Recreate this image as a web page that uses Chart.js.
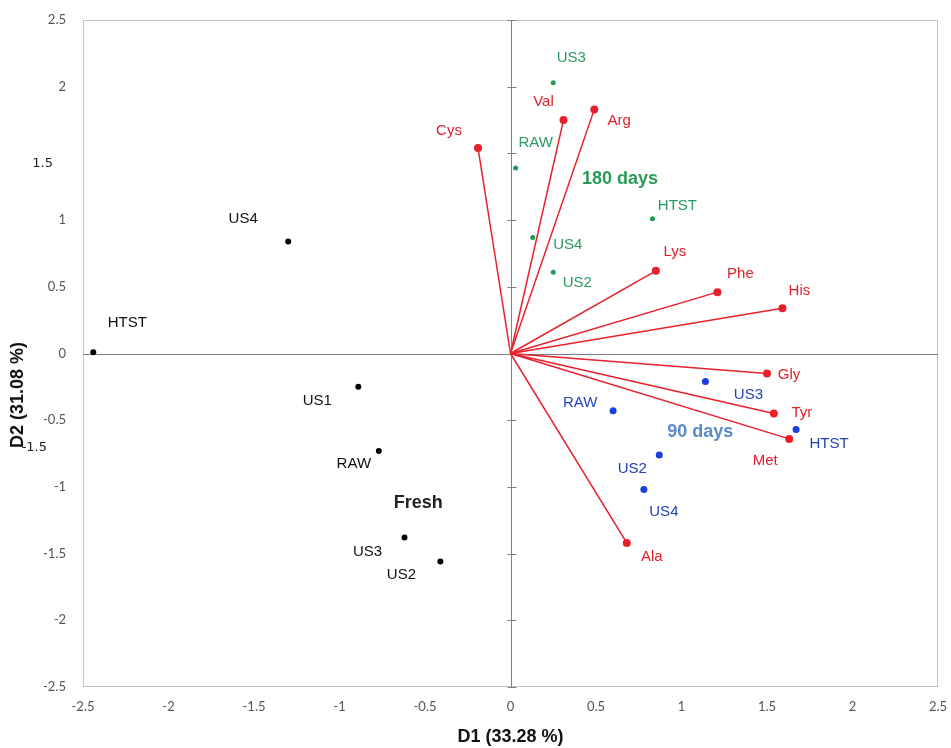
<!DOCTYPE html>
<html>
<head>
<meta charset="utf-8">
<script src="https://cdn.jsdelivr.net/npm/chart.js@4.4.1/dist/chart.umd.min.js"></script>
<style>
  body{margin:0;background:#fff;}
  #wrap{width:951px;height:748px;position:relative;}
</style>
</head>
<body>
<div id="wrap"><canvas id="myChart"></canvas></div>
<script>
// data
const freshNames = ['HTST','US4','US1','RAW','US3','US2']
const freshD1 = [-2.44,-1.30,-0.89,-0.77,-0.62,-0.41]
const freshD2 = [0.01,0.84,-0.25,-0.73,-1.38,-1.56]

const d180Names = ['US3','RAW','HTST','US4','US2']
const d180D1 = [0.25,0.03,0.83,0.13,0.25]
const d180D2 = [2.03,1.39,1.01,0.87,0.61]

const d90Names = ['US3','RAW','HTST','US2','US4']
const d90D1 = [1.14,0.60,1.67,0.87,0.78]
const d90D2 = [-0.21,-0.43,-0.57,-0.76,-1.02]

const aminoNames = ['Cys','Val','Arg','Lys','Phe','His','Gly','Tyr','Met','Ala']
const aminoD1 = [-0.19,0.31,0.49,0.85,1.21,1.59,1.50,1.54,1.63,0.68]
const aminoD2 = [1.54,1.75,1.83,0.62,0.46,0.34,-0.15,-0.45,-0.64,-1.42]

const axisTicks = [-2.5,-2,-1.5,-1,-0.5,0,0.5,1,1.5,2,2.5]
const xTitle = 'D1 (33.28 %)'
const yTitle = 'D2 (31.08 %)'

// label offsets in px (label centre minus point)
const freshOff = [[34,-29],[-45,-23],[-41,14],[-25,13],[-37,14],[-39,13]]
const d180Off = [[18,-25],[20,-25],[25,-13],[35,7],[24,11]]
const d90Off = [[43,13],[-33,-8],[33,14],[-27,14],[20,22]]
const aminoOff = [[-29,-17],[-20,-18],[25,11],[19,-19],[23,-18],[17,-17],[22,1],[28,-1],[-24,22],[25,14]]

const RED = '#e8202a'
const GREEN = '#1d9e55'
const BLUE = '#1a3fe0'
const LABEL_FONT = '15px "Liberation Sans", Arial, sans-serif'

const pts = (xs,ys)=>xs.map((v,i)=>({x:v,y:ys[i]}))

const groups = [
    {names:freshNames, d1:freshD1, d2:freshD2, off:freshOff, color:'#111'},
    {names:d180Names, d1:d180D1, d2:d180D2, off:d180Off, color:'#2a9a62'},
    {names:d90Names, d1:d90D1, d2:d90D2, off:d90Off, color:'#2442b4'},
    {names:aminoNames, d1:aminoD1, d2:aminoD2, off:aminoOff, color:'#e0202a'}
]

const groupTitles = [
    {text:'Fresh', x:-0.54, y:-1.12, color:'#222'},
    {text:'180 days', x:0.64, y:1.31, color:'#2a9a55'},
    {text:'90 days', x:1.11, y:-0.59, color:'#5a8ac8'}
]

const vectorSets = aminoNames.map((n,i)=>({
    label:n,
    data:[{x:0,y:0},{x:aminoD1[i],y:aminoD2[i]}],
    showLine:true,
    borderColor:RED,
    borderWidth:1.5,
    pointRadius:0,
    fill:false
}))

const data = {
    datasets:[
        ...vectorSets,
        {label:'Amino acids', data:pts(aminoD1,aminoD2), pointRadius:4, pointBackgroundColor:RED, pointBorderWidth:0},
        {label:'Fresh', data:pts(freshD1,freshD2), pointRadius:3, pointBackgroundColor:'#000', pointBorderWidth:0},
        {label:'180 days', data:pts(d180D1,d180D2), pointRadius:2.5, pointBackgroundColor:GREEN, pointBorderWidth:0},
        {label:'90 days', data:pts(d90D1,d90D2), pointRadius:3.5, pointBackgroundColor:BLUE, pointBorderWidth:0}
    ]
}

const annot = {
    id:'annot',
    beforeDatasetsDraw(chart){
        const {ctx, chartArea:a, scales:{x,y}} = chart
        ctx.save()
        ctx.strokeStyle='#c4c4c4'
        ctx.lineWidth=1
        ctx.strokeRect(a.left+0.5,a.top+0.5,a.width-1,a.height-1)
        const x0 = Math.round(x.getPixelForValue(0))+0.5
        const y0 = Math.round(y.getPixelForValue(0))+0.5
        ctx.strokeStyle='#808080'
        ctx.beginPath()
        ctx.moveTo(a.left,y0); ctx.lineTo(a.right,y0)
        ctx.moveTo(x0,a.top); ctx.lineTo(x0,a.bottom)
        axisTicks.forEach(v=>{
            const py = Math.round(y.getPixelForValue(v))+0.5
            ctx.moveTo(x0-4,py); ctx.lineTo(x0+5,py)
        })
        ctx.stroke()
        ctx.restore()
    },
    afterDatasetsDraw(chart){
        const {ctx, scales:{x,y}} = chart
        ctx.save()
        ctx.textAlign='center'
        ctx.textBaseline='middle'
        ctx.font = LABEL_FONT
        groups.forEach(g=>{
            ctx.fillStyle = g.color
            g.names.forEach((n,i)=>{
                const px = x.getPixelForValue(g.d1[i]) + g.off[i][0]
                const py = y.getPixelForValue(g.d2[i]) + g.off[i][1]
                ctx.fillText(n,px,py)
            })
        })
        ctx.font = 'bold 18px "Liberation Sans", Arial, sans-serif'
        groupTitles.forEach(t=>{
            ctx.fillStyle = t.color
            ctx.fillText(t.text, x.getPixelForValue(t.x), y.getPixelForValue(t.y))
        })
        // stray tick labels of the original figure
        ctx.font = '13px "DejaVu Sans", sans-serif'
        ctx.fillStyle = '#222'
        ctx.textAlign = 'right'
        ctx.fillText('1.5', 53, y.getPixelForValue(1.5)+10)
        ctx.fillText('-1.5', 47, y.getPixelForValue(-0.5)+27)
        // y title
        ctx.translate(18,395)
        ctx.rotate(-Math.PI/2)
        ctx.textAlign='center'
        ctx.fillStyle='#111'
        ctx.font = 'bold 18px "Liberation Sans", Arial, sans-serif'
        ctx.fillText(yTitle,0,0)
        ctx.restore()
    }
}

const tickFont = {family:'Lato', size:13}

const config = {
    type:'scatter',
    data:data,
    plugins:[annot],
    options:{
        responsive:true,
        maintainAspectRatio:false,
        animation:false,
        layout:{padding:{left:0,right:13,top:20,bottom:0}},
        plugins:{legend:{display:false}, tooltip:{enabled:false}},
        scales:{
            x:{
                min:-2.5, max:2.5,
                afterBuildTicks:s=>{ s.ticks = axisTicks.map(v=>({value:v})) },
                afterFit:s=>{ s.height = 61; s.paddingLeft = 0; s.paddingRight = 0 },
                grid:{display:false, drawTicks:false},
                border:{display:false},
                ticks:{color:'#555', font:tickFont, padding:12, maxRotation:0, autoSkip:false,
                    callback:v=>String(v)},
                title:{display:true, text:xTitle, color:'#111', padding:0,
                    font:{family:'"Liberation Sans", Arial', size:18, weight:'bold'}}
            },
            y:{
                min:-2.5, max:2.5,
                afterBuildTicks:s=>{ s.ticks = axisTicks.map(v=>({value:v})) },
                afterFit:s=>{ s.width = 83; s.paddingTop = 0; s.paddingBottom = 0 },
                grid:{display:false, drawTicks:false},
                border:{display:false},
                ticks:{color:'#555', font:tickFont, padding:17, autoSkip:false,
                    callback:v=> v===1.5 ? '' : String(v)}
            }
        }
    }
}
const myChart = new Chart(document.getElementById('myChart'),config)
</script>
</body>
</html>
